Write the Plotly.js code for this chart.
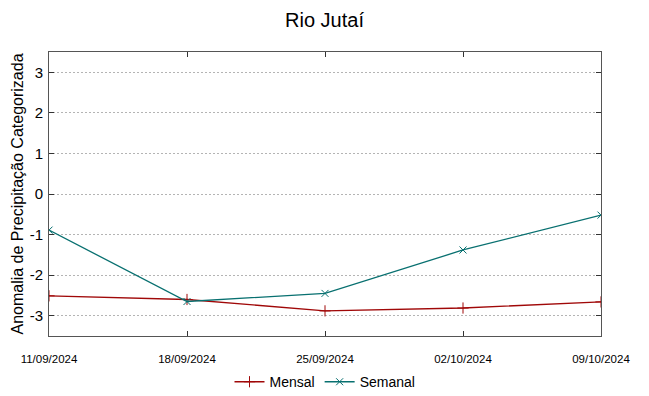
<!DOCTYPE html>
<html><head><meta charset="utf-8">
<script src="https://cdn.plot.ly/plotly-3.0.1.min.js"></script>
<style>html,body{margin:0;padding:0;background:#fff}</style>
</head><body>
<div id="chart" style="width:649px;height:396px"></div>
<script>
const dates = ["11/09/2024", "18/09/2024", "25/09/2024", "02/10/2024", "09/10/2024"];
const mensal = [-2.51, -2.60, -2.88, -2.81, -2.66];
const semanal = [-0.89, -2.65, -2.45, -1.38, -0.52];
const yTicks = [-3, -2, -1, 0, 1, 2, 3];
const yTickText = ["-3", "-2", "-1", "0", "1", "2", "3"];

const traces = [
  {x: dates, y: mensal, name: "Mensal", type: "scatter", mode: "lines+markers",
   line: {color: "#a00808", width: 1.3},
   marker: {symbol: "cross-thin", size: 8, line: {color: "#a00808", width: 1}}},
  {x: dates, y: semanal, name: "Semanal", type: "scatter", mode: "lines+markers",
   line: {color: "#087070", width: 1.3},
   marker: {symbol: "x-thin", size: 7, line: {color: "#087070", width: 1}}}
];

const layout = {
  width: 649, height: 396,
  margin: {l: 49, r: 48, t: 52, b: 60, autoexpand: false},
  paper_bgcolor: "#fff", plot_bgcolor: "#fff",
  font: {family: "Liberation Sans, Arial, sans-serif", color: "#000"},
  title: {text: "Rio Jutaí", x: 0.5, xanchor: "center", yref: "container", y: 0.95, yanchor: "middle",
          font: {size: 20, color: "#000"}},
  xaxis: {type: "category", range: [0, 4], showgrid: false, zeroline: false, automargin: false,
          showline: true, linecolor: "#555", linewidth: 1, mirror: "allticks",
          ticks: "inside", ticklen: 5, tickcolor: "#333",
          tickfont: {size: 11.5}, ticklabelstandoff: 12},
  yaxis: {range: [-3.5, 3.5], tickvals: yTicks, ticktext: yTickText, showgrid: true, gridcolor: "#b4b4b4",
          griddash: "2px,2px", gridwidth: 1, zeroline: false, automargin: false,
          showline: true, linecolor: "#555", linewidth: 1, mirror: "allticks",
          ticks: "inside", ticklen: 5, tickcolor: "#333", tickfont: {size: 15},
          ticklabelstandoff: 2,
          title: {text: "Anomalia de Precipitação Categorizada", font: {size: 16}, standoff: 2}},
  legend: {orientation: "h", x: 0.5, xanchor: "center", yref: "container", y: 0.035, yanchor: "middle",
           font: {size: 14}, bgcolor: "rgba(0,0,0,0)"},
  showlegend: true
};

Plotly.newPlot("chart", traces, layout, {displayModeBar: false, staticPlot: true});
</script>
</body></html>
